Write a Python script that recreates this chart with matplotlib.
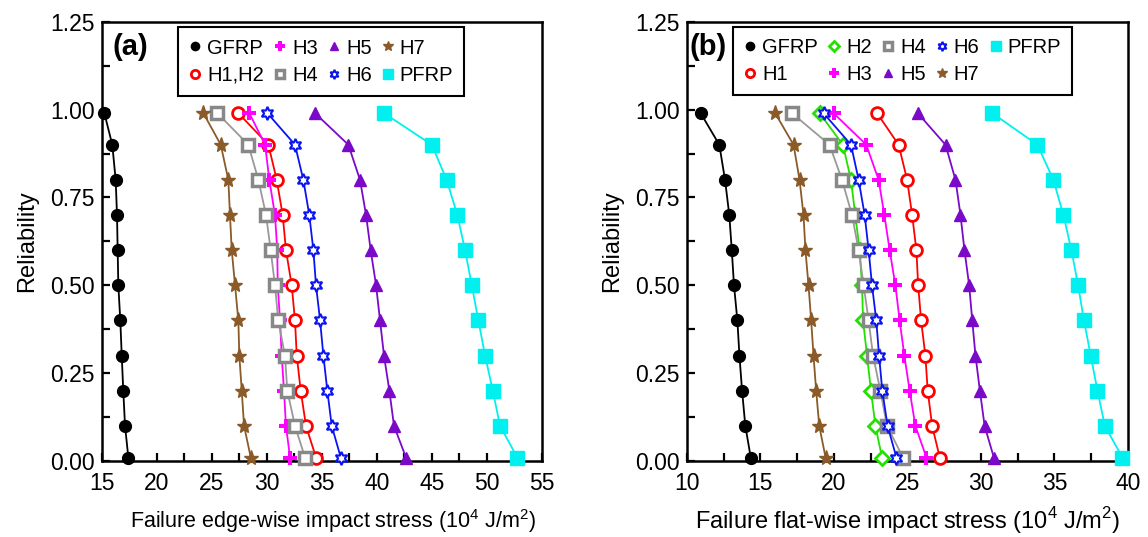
import numpy as np
import matplotlib
matplotlib.use('Agg')
import matplotlib.pyplot as plt
from matplotlib.ticker import MultipleLocator, FormatStrFormatter

plt.rcParams['font.family'] = ['Liberation Sans', 'DejaVu Sans']
plt.rcParams['mathtext.fontset'] = 'custom'
plt.rcParams['mathtext.rm'] = 'Liberation Sans'

# reliability levels (same for every series)
reliability = [0.99, 0.9, 0.8, 0.7, 0.6, 0.5, 0.4, 0.3, 0.2, 0.1, 0.01]

# (a) edge-wise failure impact stress, 10^4 J/m^2
edge_gfrp = [15.24, 15.96, 16.27, 16.39, 16.45, 16.51, 16.69, 16.82, 16.96, 17.12, 17.42]
edge_h12 = [27.42, 30.15, 30.91, 31.45, 31.75, 32.27, 32.57, 32.73, 33.09, 33.57, 34.48]
edge_h3 = [28.42, 29.85, 30.24, 30.75, 30.96, 31.0, 31.21, 31.36, 31.57, 31.75, 32.12]
edge_h4 = [25.51, 28.33, 29.24, 29.94, 30.36, 30.75, 31.05, 31.66, 31.87, 32.57, 33.48]
edge_h5 = [34.39, 37.42, 38.48, 39.03, 39.45, 39.94, 40.30, 40.66, 41.15, 41.57, 42.66]
edge_h6 = [30.06, 32.57, 33.33, 33.87, 34.24, 34.48, 34.85, 35.15, 35.51, 35.91, 36.73]
edge_h7 = [24.24, 25.82, 26.51, 26.66, 26.82, 27.12, 27.42, 27.51, 27.73, 27.94, 28.55]
edge_pfrp = [40.66, 45.00, 46.36, 47.33, 48.03, 48.64, 49.24, 49.85, 50.55, 51.21, 52.78]

# (b) flat-wise failure impact stress, 10^4 J/m^2
flat_gfrp = [10.93, 12.20, 12.59, 12.88, 13.05, 13.20, 13.43, 13.57, 13.75, 13.97, 14.34]
flat_h1 = [22.93, 24.40, 24.98, 25.32, 25.61, 25.73, 25.93, 26.22, 26.38, 26.68, 27.20]
flat_h2 = [19.02, 20.61, 21.16, 21.45, 21.75, 21.91, 21.98, 22.25, 22.52, 22.82, 23.27]
flat_h3 = [19.97, 22.20, 23.04, 23.43, 23.79, 24.18, 24.47, 24.79, 25.15, 25.54, 26.29]
flat_h4 = [17.14, 19.70, 20.55, 21.23, 21.68, 22.02, 22.36, 22.66, 23.16, 23.61, 24.70]
flat_h5 = [25.70, 27.59, 28.27, 28.61, 28.88, 29.20, 29.41, 29.63, 29.93, 30.25, 30.88]
flat_h6 = [19.29, 21.16, 21.68, 22.09, 22.36, 22.59, 22.88, 23.07, 23.29, 23.65, 24.25]
flat_h7 = [16.00, 17.25, 17.66, 17.93, 18.06, 18.27, 18.45, 18.61, 18.79, 19.00, 19.43]
flat_pfrp = [30.77, 33.84, 34.93, 35.61, 36.16, 36.61, 37.01, 37.47, 37.93, 38.43, 39.63]

hexstar = (6, 1, 0)
styles = {
    'GFRP': dict(color='black', marker='o', mfc='black', ms=8.5),
    'H1': dict(color='#ff0000', marker='o', mfc='white', ms=8.5, mew=2),
    'H2': dict(color='#22e000', marker='D', mfc='white', ms=7, mew=2),
    'H3': dict(color='#ff00ff', marker='P', mfc='#ff00ff', ms=10, mew=0),
    'H4': dict(color='#999999', marker='s', mfc='white', mec='#888888', ms=8.5, mew=2.5),
    'H5': dict(color='#7a0ac8', marker='^', mfc='#7a0ac8', ms=8),
    'H6': dict(color='#0a14f0', marker=hexstar, mfc='white', ms=9.5, mew=1.5),
    'H7': dict(color='#8a5a28', marker='*', mfc='#8a5a28', ms=11),
    'PFRP': dict(color='#00f0f0', marker='s', mfc='#00f0f0', ms=9.5),
}

fig = plt.figure(figsize=(11.48, 5.37), dpi=100)
ax1 = fig.add_axes([0.0886, 0.1415, 0.3833, 0.818])
ax2 = fig.add_axes([0.5984, 0.1415, 0.3841, 0.818])


def draw(ax, key, x, label):
    st = dict(styles[key])
    ax.plot(x, reliability, lw=1.3, label=label, clip_on=False, zorder=3, **st)


draw(ax1, 'GFRP', edge_gfrp, 'GFRP')
draw(ax1, 'H1', edge_h12, 'H1,H2')
draw(ax1, 'H3', edge_h3, 'H3')
draw(ax1, 'H4', edge_h4, 'H4')
draw(ax1, 'H5', edge_h5, 'H5')
draw(ax1, 'H6', edge_h6, 'H6')
draw(ax1, 'H7', edge_h7, 'H7')
draw(ax1, 'PFRP', edge_pfrp, 'PFRP')

draw(ax2, 'GFRP', flat_gfrp, 'GFRP')
draw(ax2, 'H1', flat_h1, 'H1')
draw(ax2, 'H2', flat_h2, 'H2')
draw(ax2, 'H3', flat_h3, 'H3')
draw(ax2, 'H4', flat_h4, 'H4')
draw(ax2, 'H5', flat_h5, 'H5')
draw(ax2, 'H6', flat_h6, 'H6')
draw(ax2, 'H7', flat_h7, 'H7')
draw(ax2, 'PFRP', flat_pfrp, 'PFRP')

for ax in (ax1, ax2):
    ax.set_ylim(0, 1.25)
    ax.yaxis.set_major_locator(MultipleLocator(0.25))
    ax.yaxis.set_minor_locator(MultipleLocator(0.125))
    ax.yaxis.set_major_formatter(FormatStrFormatter('%.2f'))
    ax.xaxis.set_major_locator(MultipleLocator(5))
    ax.xaxis.set_minor_locator(MultipleLocator(2.5))
    ax.tick_params(which='both', direction='in', length=6, width=1.6,
                   top=False, right=False, labelsize=16.5)
    ax.tick_params(axis='x', pad=8)
    ax.tick_params(axis='y', pad=5)
    for s in ax.spines.values():
        s.set_linewidth(1.8)
    ax.set_ylabel('Reliability', fontsize=17, labelpad=9)

ax1.set_xlim(15, 55)
ax2.set_xlim(10, 40)
ax1.set_xlabel(r'Failure edge-wise impact stress (10$^{4}$ J/m$^{2}$)', fontsize=15.5, labelpad=8)
ax2.set_xlabel(r'Failure flat-wise impact stress (10$^{4}$ J/m$^{2}$)', fontsize=17, labelpad=7)
ax1.xaxis.set_label_coords(0.525, -0.105)

ax1.text(0.025, 0.975, '(a)', transform=ax1.transAxes, fontsize=21, fontweight='bold', va='top')
ax2.text(0.005, 0.975, '(b)', transform=ax2.transAxes, fontsize=21, fontweight='bold', va='top')

for ax, nc, anchor in ((ax1, 4, (0.173, 0.987)), (ax2, 5, (0.104, 0.988))):
    leg = ax.legend(ncol=nc, loc='upper left', bbox_to_anchor=anchor, fontsize=14.5,
                    markerscale=0.7, handlelength=0.6, handletextpad=0.3,
                    columnspacing=0.5, borderpad=0.55, labelspacing=0.4,
                    borderaxespad=0,
                    fancybox=False, framealpha=1, edgecolor='black')
    leg.get_frame().set_linewidth(1.5)
    for h in leg.legend_handles:
        h.set_linestyle('none')

fig.savefig('out.png', dpi=100)
